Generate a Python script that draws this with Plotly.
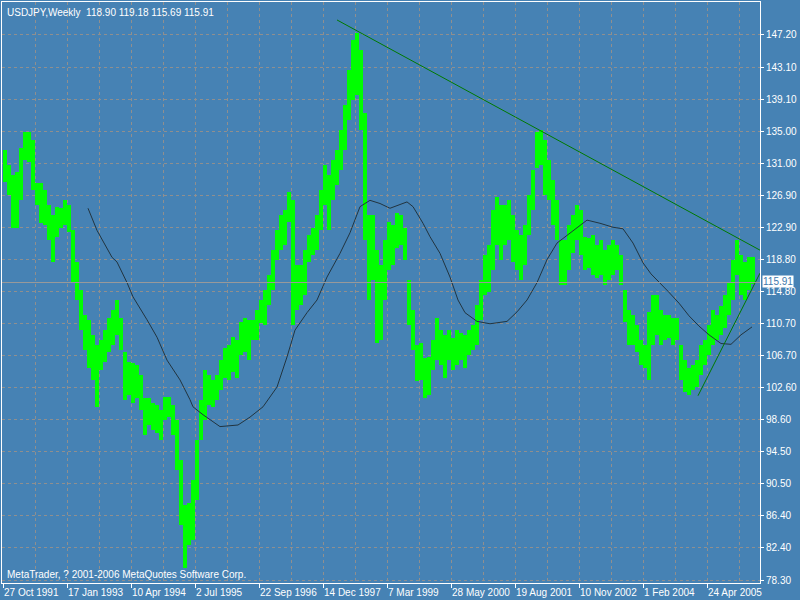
import pandas as pd
import plotly.graph_objects as go

# ---------------- data ----------------
symbol = "USDJPY,Weekly"
last_ohlc = [118.90, 119.18, 115.69, 115.91]
start_date = "1991-10-27"
block_weeks = 4  # each bar summarises four weekly bars (high/low of the block)

block_high = [
    132.7, 130.8, 129.5, 129.9, 132.9, 134.9, 134.9, 133.9, 128.5, 128.5,
    127.6, 125.7, 124.4, 125.5, 125.3, 126.3, 125.7, 122.5, 118.5, 115.0,
    111.8, 111.2, 109.3, 108.0, 108.6, 109.9, 111.4, 112.4, 113.7, 111.4,
    107.1, 105.9, 105.7, 105.5, 104.2, 101.3, 101.3, 100.7, 100.4, 99.8,
    101.4, 101.4, 100.4, 98.5, 93.5, 87.8, 88.0, 91.0, 96.0, 101.1,
    104.9, 104.2, 103.6, 104.2, 106.1, 107.6, 108.0, 109.0, 108.6, 110.9,
    111.4, 111.2, 111.2, 112.4, 113.7, 115.0, 116.9, 120.0, 122.5, 124.4,
    125.1, 127.3, 126.3, 118.1, 118.1, 120.0, 121.9, 122.8, 124.4, 127.6,
    130.8, 129.5, 131.4, 132.7, 135.2, 138.4, 142.8, 146.6, 147.5, 145.3,
    137.3, 124.4, 124.4, 120.0, 118.1, 121.3, 123.6, 123.2, 124.7, 124.4,
    122.8, 116.2, 112.4, 108.0, 108.3, 106.4, 106.5, 108.6, 111.4, 109.9,
    109.3, 109.9, 108.9, 109.9, 109.5, 109.3, 109.9, 110.6, 113.1, 116.2,
    119.4, 120.6, 125.1, 126.7, 125.7, 125.7, 126.3, 124.4, 122.5, 121.9,
    123.2, 127.0, 130.1, 134.9, 135.2, 133.9, 131.4, 128.9, 126.3, 121.3,
    121.3, 123.2, 124.4, 125.7, 125.1, 121.7, 121.6, 121.9, 120.6, 121.3,
    120.0, 120.6, 121.3, 120.6, 119.4, 115.0, 112.4, 111.8, 110.6, 108.6,
    108.0, 112.2, 114.3, 114.3, 112.4, 111.8, 111.8, 111.4, 111.4, 108.0,
    106.1, 105.1, 105.5, 106.1, 108.0, 108.6, 110.6, 112.4, 111.8, 112.9,
    114.3, 116.0, 118.8, 121.3, 119.4, 118.5, 119.1, 119.18,
]
block_low = [
    128.6, 127.0, 122.8, 122.8, 126.3, 131.4, 131.1, 127.6, 125.7, 123.4,
    123.2, 121.3, 118.5, 121.7, 122.8, 123.2, 122.3, 116.0, 113.7, 109.9,
    107.4, 105.1, 103.6, 100.2, 104.9, 105.9, 107.1, 108.0, 109.3, 107.4,
    101.1, 101.7, 100.7, 101.3, 99.8, 96.6, 97.9, 97.3, 96.9, 96.0,
    98.5, 98.9, 96.6, 92.2, 85.3, 79.8, 82.7, 83.4, 88.4, 96.0,
    98.5, 100.4, 100.2, 101.1, 102.3, 103.8, 103.6, 104.6, 103.8, 106.8,
    107.1, 106.1, 108.6, 108.6, 110.8, 110.6, 113.1, 115.0, 118.8, 120.0,
    120.6, 123.6, 110.6, 112.4, 113.1, 114.3, 118.5, 119.4, 120.0, 122.5,
    125.7, 122.5, 126.3, 128.2, 130.1, 132.7, 136.5, 139.0, 139.6, 135.2,
    121.3, 113.7, 116.2, 108.3, 108.6, 113.7, 117.5, 118.1, 120.3, 120.6,
    118.8, 110.6, 107.4, 103.5, 103.6, 101.3, 101.7, 104.9, 106.1, 105.5,
    103.8, 106.1, 104.9, 105.5, 106.1, 105.1, 106.8, 107.4, 108.0, 111.2,
    114.3, 114.7, 117.5, 120.6, 118.8, 120.6, 121.3, 118.5, 117.5, 116.2,
    118.1, 121.9, 125.1, 130.4, 130.8, 127.0, 126.3, 123.2, 121.3, 115.6,
    115.6, 117.5, 119.6, 121.3, 119.4, 117.5, 117.8, 116.9, 116.5, 116.9,
    115.6, 116.2, 116.9, 117.5, 115.6, 110.9, 108.0, 108.0, 107.1, 105.5,
    105.1, 103.6, 108.0, 109.3, 108.0, 108.6, 108.9, 108.0, 108.6, 103.6,
    102.1, 101.7, 102.3, 102.7, 104.2, 105.5, 106.8, 108.0, 108.6, 109.3,
    110.2, 111.8, 113.7, 116.9, 114.3, 113.7, 115.0, 115.69,
]

# moving average (weeks since start, value)
ma_weeks = [85, 94, 109, 114, 124, 130, 144, 154, 164, 177, 187, 190, 200, 217,
            235, 247, 260, 274, 284, 292, 304, 314, 324, 337, 347, 357, 367, 377,
            387, 395, 404, 410, 420, 427, 437, 447, 455, 462, 474, 487, 504, 514,
            524, 534, 544, 554, 567, 584, 597, 610, 620, 630, 640, 648, 665, 676,
            686, 696, 706, 718, 728, 738, 749]
ma_values = [125.3, 122.5, 119.1, 118.5, 115.9, 114.1, 111.2, 109.0, 106.1, 103.6,
             101.1, 100.2, 99.2, 97.7, 97.9, 98.9, 100.2, 102.7, 106.5, 109.9,
             112.1, 113.7, 116.6, 119.6, 122.2, 125.5, 126.3, 125.9, 125.3, 125.7,
             126.1, 125.5, 123.4, 121.7, 119.6, 116.6, 113.7, 112.1, 111.0, 110.7,
             111.0, 112.2, 113.7, 115.9, 118.8, 120.9, 122.2, 123.8, 123.4, 122.9,
             122.7, 120.9, 118.4, 117.0, 114.8, 113.3, 111.7, 110.4, 109.3, 108.2,
             108.1, 109.3, 110.3]

# trend lines (weeks since start, price)
trend_upper_weeks = [334, 757]
trend_upper_values = [149.1, 120.0]
trend_lower_weeks = [695, 757]
trend_lower_values = [101.6, 117.1]

x_tick_weeks = [0, 64, 128, 192, 256, 320, 384, 448, 512, 576, 640, 704]
x_tick_labels = ["27 Oct 1991", "17 Jan 1993", "10 Apr 1994", "2 Jul 1995",
                 "22 Sep 1996", "14 Dec 1997", "7 Mar 1999", "28 May 2000",
                 "19 Aug 2001", "10 Nov 2002", "1 Feb 2004", "24 Apr 2005"]
x_minor_weeks = [32, 96, 160, 224, 288, 352, 416, 480, 544, 608, 672, 736]
y_tick_values = [147.20, 143.10, 139.10, 135.00, 131.00, 126.90, 122.90, 118.80,
                 114.80, 110.70, 106.70, 102.60, 98.60, 94.50, 90.50, 86.40,
                 82.40, 78.30]
x_range_weeks = [-1, 757]
y_range = [77.93, 151.37]
copyright_text = "MetaTrader, ? 2001-2006 MetaQuotes Software Corp."

# ---------------- helpers ----------------
t0 = pd.Timestamp(start_date)


def wk(w):
    return t0 + pd.to_timedelta(w * 7, unit="D")


BG = "#4682B4"
GRID = "#8f8f8f"
FONT = "Liberation Sans"

block_x = [wk(i * block_weeks + (block_weeks - 1) / 2) for i in range(len(block_high))]
block_h = [h - l for h, l in zip(block_high, block_low)]
width_ms = block_weeks * 7 * 86400000

fig = go.Figure()
fig.add_trace(go.Bar(
    x=block_x, y=block_h, base=block_low, width=width_ms,
    marker=dict(color="#00FF00", line=dict(width=0)),
    hoverinfo="skip", showlegend=False))
fig.add_trace(go.Scatter(
    x=[wk(w) for w in ma_weeks], y=ma_values, mode="lines",
    line=dict(color="#22343f", width=1), hoverinfo="skip", showlegend=False))
fig.add_trace(go.Scatter(
    x=[wk(w) for w in trend_upper_weeks], y=trend_upper_values, mode="lines",
    line=dict(color="#007a00", width=1), hoverinfo="skip", showlegend=False))
fig.add_trace(go.Scatter(
    x=[wk(w) for w in trend_lower_weeks], y=trend_lower_values, mode="lines",
    line=dict(color="#007a00", width=1), hoverinfo="skip", showlegend=False))

fig.add_hline(y=last_ohlc[3], line=dict(color="#9a9a9a", width=1))

fig.update_layout(
    width=800, height=600,
    margin=dict(l=2, r=40, t=2, b=17, pad=0),
    paper_bgcolor=BG, plot_bgcolor=BG,
    bargap=0,
    font=dict(family=FONT, size=10, color="white"),
    showlegend=False,
)
fig.update_xaxes(
    type="date",
    range=[wk(x_range_weeks[0]), wk(x_range_weeks[1])],
    tickmode="array", tickvals=[wk(w) for w in x_tick_weeks], ticktext=x_tick_labels,
    tickangle=0,
    ticks="outside", ticklen=4, tickcolor="white", tickwidth=1,
    ticklabelposition="outside right",
    tickfont=dict(family=FONT, size=10, color="white"),
    showgrid=True, gridcolor=GRID, griddash="3px,3px", gridwidth=1,
    minor=dict(tickvals=[wk(w) for w in x_minor_weeks], showgrid=True,
               gridcolor=GRID, griddash="3px,3px", gridwidth=1, ticks=""),
    showline=True, linecolor="white", linewidth=1, mirror=True,
    zeroline=False, fixedrange=True, automargin=False,
)
fig.update_yaxes(
    side="right", range=y_range,
    tickmode="array", tickvals=y_tick_values,
    ticktext=[f"{v:.2f}" for v in y_tick_values],
    ticks="outside", ticklen=3, tickcolor="white", tickwidth=1,
    tickfont=dict(family=FONT, size=10, color="white"),
    showgrid=True, gridcolor=GRID, griddash="3px,3px", gridwidth=1,
    showline=True, linecolor="white", linewidth=1, mirror=True,
    zeroline=False, fixedrange=True, automargin=False,
)

title = symbol + "\u00a0\u00a0" + " ".join(f"{v:.2f}" for v in last_ohlc)
fig.add_annotation(text=title, xref="paper", yref="paper", x=0, y=1,
                   xanchor="left", yanchor="top", xshift=3, yshift=-3,
                   showarrow=False, font=dict(family=FONT, size=10, color="white"))
fig.add_annotation(text=copyright_text, xref="paper", yref="paper", x=0, y=0,
                   xanchor="left", yanchor="bottom", xshift=3, yshift=1,
                   showarrow=False, font=dict(family=FONT, size=10, color="white"))
fig.add_annotation(text=f"{last_ohlc[3]:.2f}", xref="paper", yref="y", x=1,
                   y=last_ohlc[3], xanchor="left", yanchor="middle", xshift=2,
                   yshift=1, showarrow=False, bgcolor="white", borderpad=0,
                   font=dict(family=FONT, size=10, color="#3d78ad"))

fig.write_html("out.html",
               config={"displayModeBar": False, "staticPlot": True},
               post_script="document.body.style.margin='0';"
                           "document.body.style.background='" + BG + "';")
